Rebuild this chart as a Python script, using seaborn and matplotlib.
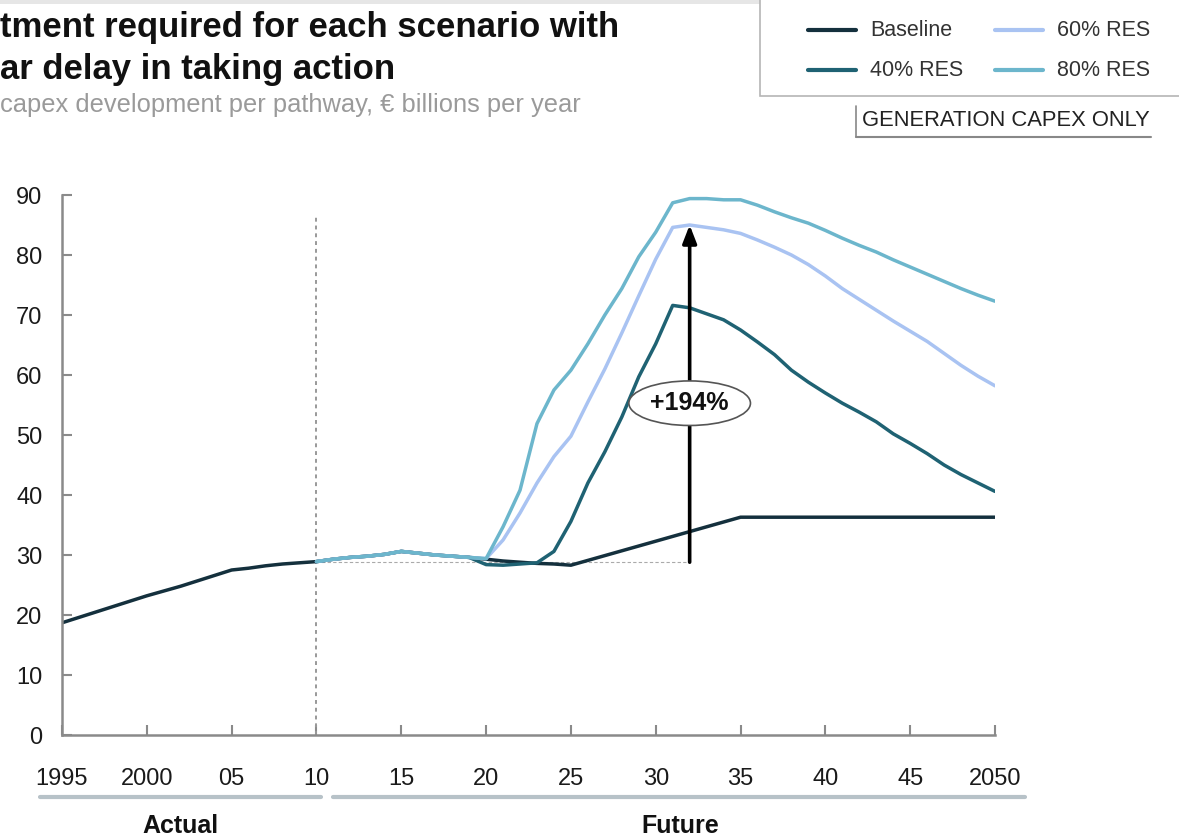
import matplotlib
matplotlib.use("Agg")
import matplotlib.pyplot as plt
from matplotlib.patches import Rectangle
from matplotlib.lines import Line2D
import seaborn as sns
import pandas as pd

# ---- data -------------------------------------------------------------
hist_years = list(range(1995, 2011))
hist_values = [18.7, 19.6, 20.5, 21.4, 22.3, 23.2, 24.0, 24.8, 25.7, 26.6,
               27.5, 27.8, 28.2, 28.5, 28.7, 28.9]

future_years = list(range(2010, 2051))
# common path 2010-2020, shared by every pathway
shared_2010_2020 = [28.9, 29.3, 29.6, 29.8, 30.1, 30.6, 30.3, 30.0, 29.8, 29.6]

baseline_2020_2050 = [29.3, 29.0, 28.8, 28.6, 28.5, 28.3, 29.1, 29.9, 30.7, 31.5,
                      32.3, 33.1, 33.9, 34.7, 35.5, 36.3, 36.3, 36.3, 36.3, 36.3,
                      36.3, 36.3, 36.3, 36.3, 36.3, 36.3, 36.3, 36.3, 36.3, 36.3,
                      36.3]
res40_2020_2050 = [28.4, 28.3, 28.5, 28.7, 30.6, 35.6, 42.0, 47.2, 53.0, 59.7,
                   65.2, 71.6, 71.2, 70.2, 69.2, 67.5, 65.5, 63.4, 60.8, 58.8,
                   57.0, 55.3, 53.8, 52.2, 50.2, 48.6, 46.9, 45.0, 43.4, 42.0,
                   40.6]
res60_2020_2050 = [29.4, 32.5, 37.0, 42.0, 46.4, 49.8, 55.5, 61.0, 67.0, 73.2,
                   79.3, 84.6, 85.0, 84.6, 84.2, 83.6, 82.5, 81.3, 80.0, 78.4,
                   76.5, 74.4, 72.6, 70.8, 69.0, 67.3, 65.6, 63.6, 61.6, 59.8,
                   58.2]
res80_2020_2050 = [29.4, 34.7, 40.8, 51.9, 57.5, 60.8, 65.2, 70.0, 74.4, 79.7,
                   83.8, 88.7, 89.4, 89.4, 89.2, 89.2, 88.3, 87.2, 86.2, 85.3,
                   84.1, 82.8, 81.6, 80.5, 79.2, 78.0, 76.8, 75.6, 74.4, 73.3,
                   72.3]

series_names = ["Baseline", "40% RES", "60% RES", "80% RES"]
series_colors = ["#14303d", "#1f6273", "#a9c3f2", "#6cb6cc"]

tick_years = [1995, 2000, 2005, 2010, 2015, 2020, 2025, 2030, 2035, 2040, 2045, 2050]
tick_labels = ["1995", "2000", "05", "10", "15", "20", "25", "30", "35", "40", "45", "2050"]

start_level = 28.8        # 2010 reference level
arrow_year = 2032
arrow_top = 85.0
change_label = "+194%"

# ---- long-form table --------------------------------------------------
rows = []
for y, v in zip(hist_years, hist_values):
    rows.append(("Baseline", y, v))
for name, tail in zip(series_names,
                      [baseline_2020_2050, res40_2020_2050, res60_2020_2050, res80_2020_2050]):
    for y, v in zip(future_years, shared_2010_2020 + tail):
        if name == "Baseline" and y == 2010:
            continue
        rows.append((name, y, v))
df = pd.DataFrame(rows, columns=["pathway", "year", "capex"])

# ---- figure -----------------------------------------------------------
W, H = 1179, 836
sns.set_theme(style="white")
plt.rcParams["font.family"] = ["Liberation Sans", "DejaVu Sans"]

fig = plt.figure(figsize=(W / 100, H / 100), dpi=100)


def fx(x):
    return x / W


def fy(y):
    return 1 - y / H


ax = fig.add_axes([fx(62), fy(735), fx(995) - fx(62), fy(195) - fy(735)])

sns.lineplot(data=df, x="year", y="capex", hue="pathway", hue_order=series_names,
             palette=dict(zip(series_names, series_colors)), linewidth=2.5,
             estimator=None, sort=True, legend=False, ax=ax)

ax.set_xlim(1995, 2050)
ax.set_ylim(0, 90)
ax.set_xlabel("")
ax.set_ylabel("")
ax.set_xticks(tick_years)
ax.set_xticklabels(tick_labels)
ax.set_yticks(range(0, 91, 10))

for side in ["top", "right"]:
    ax.spines[side].set_visible(False)
for side in ["left", "bottom"]:
    ax.spines[side].set_color("#8a8a8a")
    ax.spines[side].set_linewidth(1.8)

ax.tick_params(axis="both", direction="in", length=7, width=1.5, color="#8a8a8a",
               labelsize=17, labelcolor="#1a1a1a")
ax.tick_params(axis="y", pad=14)
ax.tick_params(axis="x", pad=24)
ax.tick_params(axis="both", left=True, bottom=True)
ax.grid(False)

# 2010 divider between actual and projected values
ax.plot([2010, 2010], [0, 86.7], color="#999999", linestyle=(0, (2, 2)),
        linewidth=1.4, zorder=1)
# reference level of 2010
ax.plot([2010, arrow_year], [start_level, start_level], color="#aaaaaa",
        linestyle=(0, (3, 2)), linewidth=0.8, zorder=1)

# growth arrow and its label
ax.annotate("", xy=(arrow_year, arrow_top), xytext=(arrow_year, start_level),
            arrowprops=dict(arrowstyle="-|>,head_length=0.9,head_width=0.35",
                            color="black", linewidth=2.6, shrinkA=0, shrinkB=0),
            zorder=6)
ax.text(arrow_year, 55.3, change_label, ha="center", va="center", fontsize=18,
        fontweight="bold", color="#111111", zorder=8,
        bbox=dict(boxstyle="ellipse,pad=0.15", facecolor="white",
                  edgecolor="#555555", linewidth=1.2))

# ---- titles ------------------------------------------------------------
fig.patches.append(Rectangle((0, fy(4)), 1, fy(0) - fy(4), transform=fig.transFigure,
                             facecolor="#e6e6e6", edgecolor="none"))
fig.text(fx(0), fy(28), "tment required for each scenario with", fontsize=25,
         fontweight="bold", color="#111111", ha="left", va="center")
fig.text(fx(0), fy(70), "ar delay in taking action", fontsize=25,
         fontweight="bold", color="#111111", ha="left", va="center")
fig.text(fx(0), fy(105), "capex development per pathway, € billions per year",
         fontsize=18.4, color="#9a9a9a", ha="left", va="center")

# ---- legend box ----------------------------------------------------------
fig.patches.append(Rectangle((fx(760), fy(96)), fx(1185) - fx(760), fy(-5) - fy(96),
                             transform=fig.transFigure, facecolor="white",
                             edgecolor="#b5b5b5", linewidth=1.2))
legend_slots = [(808, 30), (808, 70), (995, 30), (995, 70)]
for (lx, ly), name, color in zip(legend_slots, series_names, series_colors):
    fig.add_artist(Line2D([fx(lx), fx(lx + 48)], [fy(ly), fy(ly)],
                          transform=fig.transFigure, color=color, linewidth=3))
    fig.text(fx(lx + 62), fy(ly), name, fontsize=15.5, color="#333333",
             ha="left", va="center")

# scope note
fig.text(fx(862), fy(121), "GENERATION CAPEX ONLY", fontsize=15.8, color="#222222",
         ha="left", va="center")
fig.add_artist(Line2D([fx(856), fx(856)], [fy(106), fy(137)], transform=fig.transFigure,
                      color="#888888", linewidth=1.2))
fig.add_artist(Line2D([fx(856), fx(1151)], [fy(137), fy(137)], transform=fig.transFigure,
                      color="#888888", linewidth=1.5))

# ---- period brackets ---------------------------------------------------
fig.add_artist(Line2D([fx(40), fx(321)], [fy(797), fy(797)], transform=fig.transFigure,
                      color="#b7c2c8", linewidth=3))
fig.add_artist(Line2D([fx(333), fx(1025)], [fy(797), fy(797)], transform=fig.transFigure,
                      color="#b7c2c8", linewidth=3))
fig.text(fx(180), fy(826), "Actual", fontsize=18, fontweight="bold", color="#111111",
         ha="center", va="center")
fig.text(fx(680), fy(826), "Future", fontsize=18, fontweight="bold", color="#111111",
         ha="center", va="center")

fig.savefig("out.png", dpi=100)
